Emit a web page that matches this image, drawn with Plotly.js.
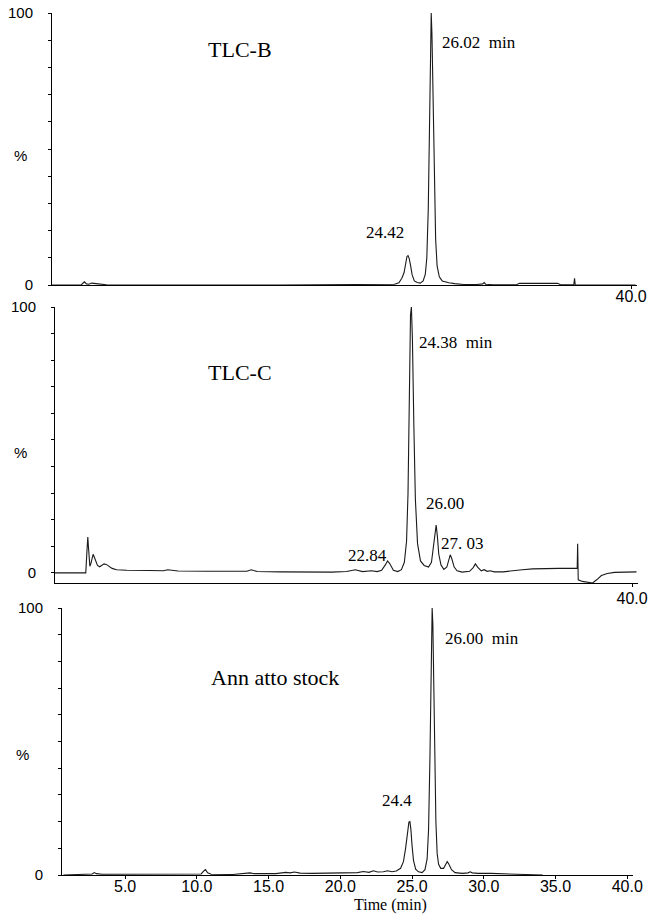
<!DOCTYPE html>
<html>
<head>
<meta charset="utf-8">
<script src="https://cdn.plot.ly/plotly-3.0.1.min.js"></script>
<style>html,body{margin:0;padding:0;background:#fff;}#chart{width:650px;height:914px;}</style>
</head>
<body>
<div id="chart"></div>
<script>
// ---- Data (time in min, relative intensity in %) ----
// Panel 1: TLC-B
const timeB = [0.6, 2.0, 2.6, 2.8, 2.95, 3.1, 3.3, 3.6, 3.9, 4.3, 5.0, 8.0, 12.0, 16.0, 20.0, 23.0, 23.9, 24.2, 24.4, 24.55, 24.65, 24.75, 24.82, 24.9, 25.0, 25.1, 25.25, 25.45, 25.65, 25.85, 26.0, 26.1, 26.2, 26.28, 26.35, 26.4, 26.45, 26.52, 26.6, 26.7, 26.8, 26.95, 27.15, 27.35, 27.6, 28.0, 28.6, 29.5, 29.9, 30.0, 30.1, 30.6, 32.2, 32.4, 35.0, 35.2, 36.1, 36.15, 36.2, 36.3, 37.0, 40.3];
const intB = [0, 0, 0.1, 1.2, 0.4, 0.3, 0.7, 0.5, 0.3, 0.1, 0, 0.1, 0, 0, 0.1, 0.2, 0.3, 0.8, 2.5, 4.5, 8, 10.5, 10.8, 9.8, 7, 3.8, 1.5, 0.9, 0.7, 1.5, 4, 10, 28, 55, 85, 100, 92, 68, 38, 17, 7, 3, 1.5, 1.2, 0.8, 0.5, 0.2, 0.2, 0.4, 0.9, 0.3, 0.1, 0.1, 0.6, 0.6, 0.1, 0.1, 2.5, 0, 0, 0, 0];

// Panel 2: TLC-C
const timeC = [0.6, 2.0, 2.7, 2.78, 2.84, 2.88, 2.93, 2.98, 3.05, 3.12, 3.2, 3.28, 3.38, 3.5, 3.65, 3.8, 3.95, 4.1, 4.3, 4.5, 4.8, 5.5, 7.0, 8.0, 8.3, 9.0, 11.0, 13.0, 13.7, 14.0, 14.4, 16.0, 18.0, 19.5, 20.5, 21.1, 21.6, 22.2, 22.6, 22.9, 23.15, 23.3, 23.45, 23.7, 24.0, 24.25, 24.45, 24.6, 24.7, 24.8, 24.87, 24.93, 25.0, 25.1, 25.2, 25.35, 25.55, 25.8, 26.1, 26.3, 26.45, 26.55, 26.62, 26.7, 26.8, 26.95, 27.15, 27.35, 27.5, 27.58, 27.68, 27.85, 28.05, 28.4, 28.9, 29.15, 29.3, 29.45, 29.7, 29.9, 30.1, 30.3, 30.6, 31.2, 32.5, 33.2, 35.0, 36.25, 36.28, 36.32, 36.6, 37.0, 37.3, 37.6, 37.9, 38.3, 38.8, 40.3];
const intC = [0, 0, 0, 8, 13.5, 10, 4, 2.5, 3.5, 5.5, 7, 6, 4.2, 2.8, 2.3, 2.8, 3.4, 3.2, 2.5, 1.7, 1.2, 1.0, 0.9, 0.8, 1.2, 0.7, 0.6, 0.5, 0.6, 1.2, 0.5, 0.4, 0.2, 0.3, 0.5, 1.2, 0.5, 0.8, 0.5, 1.0, 3.0, 4.5, 3.5, 1.0, 0.5, 1.2, 4, 12, 30, 70, 97, 100, 88, 55, 28, 11, 4.5, 2.8, 2.2, 4, 11, 17, 18, 14, 7, 3, 1.3, 2.2, 5, 6.8, 5.5, 2.2, 0.8, 0.3, 0.6, 2, 3.4, 2.2, 0.8, 1.2, 0.6, 0.8, 0.4, 0.4, 1.2, 1.5, 1.7, 1.8, 11, -2.6, -3.2, -3.7, -3.8, -2.5, -1.0, -0.2, 0.2, 0.4];

// Panel 3: Annatto stock
const timeA = [0.7, 2.4, 2.7, 2.85, 3.0, 3.4, 4.5, 6.0, 7.5, 9.0, 10.3, 10.5, 10.6, 10.75, 11.0, 12.5, 13.4, 13.7, 14.0, 15.5, 16.2, 16.5, 16.8, 17.2, 18.0, 19.5, 20.5, 21.2, 21.6, 22.0, 22.3, 22.6, 23.0, 23.3, 23.6, 23.9, 24.2, 24.4, 24.55, 24.68, 24.78, 24.85, 24.92, 25.0, 25.1, 25.25, 25.45, 25.7, 25.9, 26.05, 26.15, 26.25, 26.33, 26.4, 26.45, 26.5, 26.58, 26.66, 26.75, 26.85, 27.0, 27.2, 27.35, 27.45, 27.55, 27.75, 28.0, 28.5, 28.9, 29.05, 29.2, 29.6, 30.5, 32.0, 33.5, 34.1];
const intA = [0, 0.2, 0.4, 0.9, 0.5, 0.3, 0.3, 0.2, 0.3, 0.2, 0.4, 1.6, 2.0, 0.8, 0.3, 0.2, 0.5, 0.8, 0.5, 0.5, 1.0, 0.8, 1.1, 0.7, 0.6, 0.8, 1.0, 0.9, 1.3, 1.0, 1.6, 1.1, 1.2, 1.6, 1.2, 1.5, 2.5, 5, 10, 16, 19.8, 20, 17, 11, 5.5, 2.2, 1.2, 0.9, 2, 6, 17, 45, 80, 100, 94, 78, 45, 20, 8, 4, 2.5, 2.5, 4, 5, 4.2, 2, 0.9, 0.6, 0.8, 1.2, 0.8, 0.6, 0.6, 0.4, 0.3, 0];

// Tick labels
const yTickVals = [0, 100];
const yTickText = ['0', '100'];
const xTickValsTop = [40];
const xTickTextTop = ['40.0'];
const xTickValsBottom = [5, 10, 15, 20, 25, 30, 35, 40];
const xTickTextBottom = ['5.0', '10.0', '15.0', '20.0', '25.0', '30.0', '35.0', '40.0'];

// Peak / panel labels
const panelNames = ['TLC-B', 'TLC-C', 'Ann atto stock'];
const peakLabelsB = ['26.02\u00a0\u00a0min', '24.42'];
const peakLabelsC = ['24.38\u00a0\u00a0min', '26.00', '27. 03', '22.84'];
const peakLabelsA = ['26.00\u00a0\u00a0min', '24.4'];
const yUnit = '%';
const xTitle = 'Time (min)';

// ---- Layout helpers (pixel -> paper) ----
const W = 650, H = 914;
const px = v => v / W;
const py = v => 1 - v / H;
const X_RANGE = [0.6, 40.4];

const sans = 'Liberation Sans, Arial, sans-serif';
const serif = 'Liberation Serif, Times New Roman, serif';
const lineStyle = {color: '#1a1a1a', width: 1.1};

function xAxis(domain, vals, text, standoff, anchor) {
  return {
    domain: domain, range: X_RANGE, anchor: anchor, showgrid: false, zeroline: false,
    showline: true, linecolor: '#000', linewidth: 1,
    tickmode: 'array', tickvals: vals, ticktext: text,
    ticks: 'outside', ticklen: 3, tickcolor: '#000',
    ticklabelstandoff: standoff,
    tickfont: {family: sans, size: 16, color: '#000'},
    fixedrange: true
  };
}
// overlay axis that only draws the fine dotted-looking minor ticks
function xMinor(domain, overlay, anchor) {
  return {
    domain: domain, range: X_RANGE, overlaying: overlay, anchor: anchor, side: 'bottom',
    showgrid: false, zeroline: false, showline: false,
    tickmode: 'linear', tick0: 0, dtick: 0.25, ticks: 'outside', ticklen: 2,
    tickcolor: '#000', tickwidth: 1, showticklabels: false, fixedrange: true
  };
}
function yAxis(domain, range, anchor) {
  return {
    domain: domain, range: range, anchor: anchor, showgrid: false, zeroline: false,
    showline: true, linecolor: '#000', linewidth: 1,
    tickmode: 'array', tickvals: yTickVals, ticktext: yTickText,
    ticks: 'outside', ticklen: 3, tickcolor: '#000',
    ticklabelstandoff: 12,
    tickfont: {family: sans, size: 15, color: '#000'},
    minor: {tickmode: 'linear', tick0: 0, dtick: 10, ticks: 'outside', ticklen: 3, tickcolor: '#000', showgrid: false},
    fixedrange: true
  };
}

const traces = [
  {x: timeB, y: intB, xaxis: 'x', yaxis: 'y', type: 'scatter', mode: 'lines', line: lineStyle, hoverinfo: 'skip'},
  {x: timeC, y: intC, xaxis: 'x2', yaxis: 'y2', type: 'scatter', mode: 'lines', line: lineStyle, hoverinfo: 'skip'},
  {x: timeA, y: intA, xaxis: 'x3', yaxis: 'y3', type: 'scatter', mode: 'lines', line: lineStyle, hoverinfo: 'skip'}
];

function ann(text, x, y, size, family, xanchor) {
  return {text: text, x: px(x), y: py(y), xref: 'paper', yref: 'paper',
    xanchor: xanchor || 'center', yanchor: 'middle', showarrow: false,
    font: {family: family, size: size, color: '#000'}};
}

const annotations = [
  ann(panelNames[0], 240, 50, 22, serif),
  ann(peakLabelsB[0], 440, 43, 17, serif, 'left'),
  ann(peakLabelsB[1], 385, 233, 17, serif),
  ann(panelNames[1], 240, 372, 22, serif),
  ann(peakLabelsC[0], 417, 342, 17, serif, 'left'),
  ann(peakLabelsC[1], 445, 503, 17, serif),
  ann(peakLabelsC[2], 462, 543, 17, serif),
  ann(peakLabelsC[3], 367, 555, 17, serif),
  ann(panelNames[2], 275, 677, 22, serif),
  ann(peakLabelsA[0], 443, 638, 17, serif, 'left'),
  ann(peakLabelsA[1], 397, 800, 17, serif),
  ann(yUnit, 20, 156, 15, sans),
  ann(yUnit, 20, 452, 15, sans),
  ann(yUnit, 22, 754, 15, sans),
  ann(xTitle, 390, 905, 16, serif)
];

const dTop = [px(52), px(637)], dMid = [px(55), px(638)], dBot = [px(62), px(633)];

const layout = {
  width: W, height: H,
  margin: {l: 0, r: 0, t: 0, b: 0, pad: 0},
  paper_bgcolor: '#fff', plot_bgcolor: '#fff',
  showlegend: false,
  xaxis: xAxis(dTop, xTickValsTop, xTickTextTop, -6, 'y'),
  yaxis: yAxis([py(285), py(13)], [0, 100], 'x'),
  xaxis2: xAxis(dMid, xTickValsTop, xTickTextTop, -2, 'y2'),
  yaxis2: yAxis([py(583), py(307)], [-3.8, 100], 'x2'),
  xaxis3: xAxis(dBot, xTickValsBottom, xTickTextBottom, -6, 'y3'),
  yaxis3: yAxis([py(875), py(608)], [0, 100], 'x3'),
  xaxis4: xMinor(dTop, 'x', 'y'),
  xaxis5: xMinor(dMid, 'x2', 'y2'),
  xaxis6: xMinor(dBot, 'x3', 'y3'),
  annotations: annotations
};

Plotly.newPlot('chart', traces, layout, {displayModeBar: false, staticPlot: true});
</script>
</body>
</html>
